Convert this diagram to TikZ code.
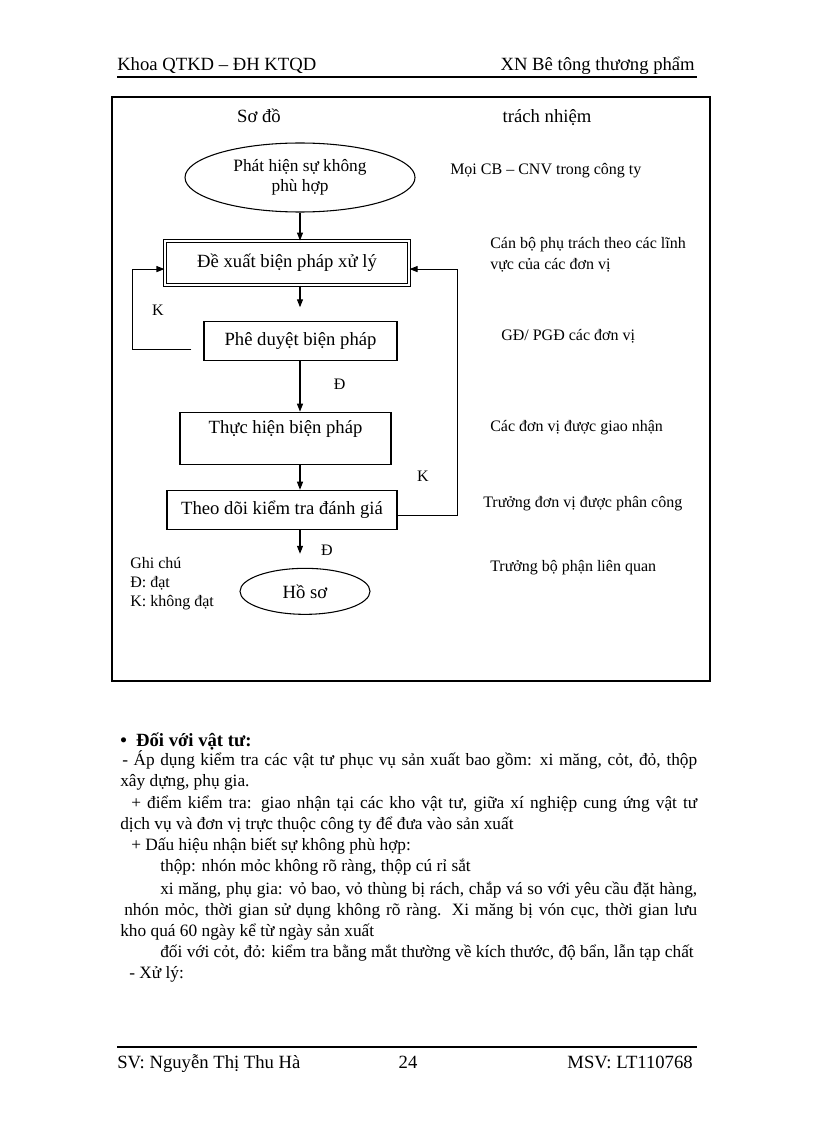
\documentclass[tikz,border=0pt]{standalone}
\usepackage{fontspec}
\setmainfont{Liberation Serif}
\usetikzlibrary{positioning, arrows.meta, shapes.geometric}

\begin{document}
\begin{tikzpicture}[
    x=0.75pt, y=-0.75pt,
    every node/.style={font=\fontsize{12}{14.5}\selectfont},
    flowbox/.style={rectangle, draw=black, line width=0.8pt, inner sep=2pt,
                    font=\fontsize{14}{17}\selectfont, text centered},
    flowell/.style={ellipse, draw=black, line width=0.8pt, inner sep=0pt, align=center},
    arr/.style={-{Triangle[length=6pt, width=4.5pt]}, line width=0.8pt, draw=black},
    tag/.style={inner sep=0pt, font=\fontsize{12}{14}\selectfont},
    resp/.style={anchor=base west, inner sep=0pt},
    hd/.style={font=\fontsize{14}{17}\selectfont, inner sep=0pt, anchor=base west},
    body/.style={font=\fontsize{13}{16}\selectfont, inner sep=0pt, anchor=base west}
]
\useasboundingbox (0,0) rectangle (816,1123);
\fill[white] (0,0) rectangle (816,1123);

% Header
\node[hd] (hleft) at (117,71) {Khoa QTKD – ĐH KTQD};
\node[hd, anchor=base east] (hright) at (695,71) {XN Bê tông thương phẩm};
\draw[line width=1.2pt] (117,77) -- (697,77);

% Frame and headings
\draw[line width=1.3pt] (112,97) rectangle (710,681);
\node[hd, anchor=base] (sodo) at (259,123) {Sơ đồ};
\node[hd, anchor=base] (trach) at (547,123) {trách nhiệm};

% Flow
\node[flowell, minimum width=172.5pt, minimum height=51.75pt,
      font=\fontsize{13}{15}\selectfont] (ell) at (300,177.5) {Phát hiện sự không\\phù hợp};
\node[flowbox, double, double distance=1.5pt, minimum width=183pt, minimum height=33pt,
      below=21pt of ell, xshift=-9.75pt] (de) {Đề xuất biện pháp xử lý};
\node[flowbox, minimum width=144.75pt, minimum height=29.25pt,
      below=26.25pt of de, xshift=10.125pt] (phe) {Phê duyệt biện pháp};
\node[flowbox, minimum width=158.25pt, minimum height=39pt, text height=12pt,
      text depth=19.5pt, inner ysep=3.75pt,
      below=38.25pt of phe, xshift=-11.25pt] (thuc) {Thực hiện biện pháp};
\node[flowbox, minimum width=172.5pt, minimum height=29.25pt,
      below=18.75pt of thuc, xshift=-2.625pt] (theo) {Theo dõi kiểm tra đánh giá};
\node[flowell, minimum width=97.5pt, minimum height=34.5pt,
      font=\fontsize{14}{17}\selectfont,
      below=28.5pt of theo, xshift=17.25pt] (ho) {Hồ sơ};

% Arrows down
\draw[arr] (ell.south) -- (ell.south |- de.north);
\draw[arr, shorten >=10pt] (ell.south |- de.south) -- (ell.south |- phe.north);
\draw[arr] (ell.south |- phe.south) -- node[tag, pos=0.47, right=25pt]{Đ} (ell.south |- thuc.north);
\draw[arr] (ell.south |- thuc.south) -- (ell.south |- theo.north);
\draw[arr, shorten >=10.5pt] (ell.south |- theo.south) -- (ell.south |- ho.north);

% Loops back
\draw[arr] ([xshift=-9pt, yshift=-6.75pt]phe.west) -- ++(-44.25pt,0) |- ([yshift=-4.5pt]de.west);
\draw[arr] ([yshift=-4.125pt]theo.east) -- ++(45pt,0) |- ([yshift=-4.5pt]de.east);
\node[tag] (kleft) at (158,310) {K};
\node[tag] (kright) at (423,476) {K};
\node[tag] (dho) at (327,550) {Đ};

% Responsibility
\node[resp] (r1) at (450,175) {Mọi CB – CNV trong công ty};
\node[resp, anchor=north west, align=left, font=\fontsize{12}{15.75}\selectfont] (r2) at (490,237)
    {Cán bộ phụ trách theo các lĩnh\\vực của các đơn vị};
\node[resp] (r3) at (501,340) {GĐ/ PGĐ các đơn vị};
\node[resp] (r4) at (490,431) {Các đơn vị được giao nhận};
\node[resp] (r5) at (483,507) {Trưởng đơn vị được phân công};
\node[resp] (r6) at (490,571) {Trưởng bộ phận liên quan};

% Legend
\node[resp, anchor=north west, align=left, font=\fontsize{12}{14.25}\selectfont] (note) at (130,557)
    {Ghi chú\\Đ: đạt\\K: không đạt};

% Text below
\node[body, font={\fontsize{14}{16}\selectfont\bfseries}] (b0) at (120,746) {•\ \ Đối với vật tư:};
\node[body] (b1) at (122,765) {\makebox[431.25pt][s]{- Áp dụng kiểm tra các vật tư phục vụ sản xuất bao gồm: xi măng, cỏt, đỏ, thộp}};
\node[body] (b2) at (120,786) {xây dựng, phụ gia.};
\node[body] (b3) at (131,808) {\makebox[424.5pt][s]{+ điểm kiểm tra: giao nhận tại các kho vật tư, giữa xí nghiệp cung ứng vật tư}};
\node[body] (b4) at (120,829) {dịch vụ và đơn vị trực thuộc công ty để đưa vào sản xuất};
\node[body] (b5) at (131,850) {+ Dấu hiệu nhận biết sự không phù hợp:};
\node[body] (b6) at (160,871) {thộp: nhón mỏc không rõ ràng, thộp cú rỉ sắt};
\node[body] (b7) at (160,894) {\makebox[402.75pt][s]{xi măng, phụ gia: vỏ bao, vỏ thùng bị rách, chắp vá so với yêu cầu đặt hàng,}};
\node[body] (b8) at (124,915) {\makebox[429.75pt][s]{nhón mỏc, thời gian sử dụng không rõ ràng. Xi măng bị vón cục, thời gian lưu}};
\node[body] (b9) at (120,936) {kho quá 60 ngày kể từ ngày sản xuất};
\node[body] (b10) at (160,957) {đối với cỏt, đỏ: kiểm tra bằng mắt thường về kích thước, độ bẩn, lẫn tạp chất};
\node[body] (b11) at (129,978) {- Xử lý:};

% Footer
\draw[line width=1pt] (117,1047) -- (697,1047);
\node[hd] (sv) at (117,1068) {SV: Nguyễn Thị Thu Hà};
\node[hd, anchor=base] (page) at (408,1068) {24};
\node[hd, anchor=base east] (msv) at (693,1068) {MSV: LT110768};

\end{tikzpicture}
\end{document}
